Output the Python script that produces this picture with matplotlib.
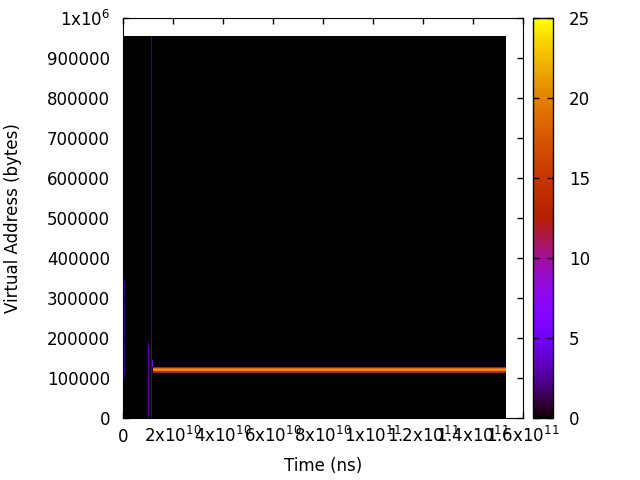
import numpy as np
import matplotlib
matplotlib.use("Agg")
import matplotlib.pyplot as plt

# histogram grid (time x address)
t_bin = 4e8          # ns per column
a_bin = 2500         # bytes per row
n_time_bins = 383
n_addr_bins = 382

# vertical streaks: time (ns), address from, address to, count
streak_t = [6e8, 1.02e10, 1.12e10, 1.16e10]
streak_lo = [95000, 0, 0, 127500]
streak_hi = [345000, 187500, 955000, 145000]
streak_c = [2, 2.8, 1.8, 6]

# the long horizontal band (stack usage), starting at band_start
band_start = 1.16e10
band_addr = [125000, 122500, 120000, 117500, 115000, 112500]
band_count = [7, 19, 21, 20, 14, 11]

xticks = [0, 2e10, 4e10, 6e10, 8e10, 1e11, 1.2e11, 1.4e11, 1.6e11]
xlabels = ["0", "2x10$^{10}$", "4x10$^{10}$", "6x10$^{10}$", "8x10$^{10}$",
           "1x10$^{11}$", "1.2x10$^{11}$", "1.4x10$^{11}$", "1.6x10$^{11}$"]
yticks = [0, 100000, 200000, 300000, 400000, 500000, 600000, 700000, 800000, 900000, 1000000]
ylabels = ["0", "100000", "200000", "300000", "400000", "500000", "600000",
           "700000", "800000", "900000", "1x10$^{6}$"]
cticks = [0, 5, 10, 15, 20, 25]

grid = np.zeros((n_addr_bins, n_time_bins))
for t, lo, hi, c in zip(streak_t, streak_lo, streak_hi, streak_c):
    grid[int(lo // a_bin):int(hi // a_bin), int(t // t_bin)] = c
for a, c in zip(band_addr, band_count):
    grid[int(a // a_bin), int(band_start // t_bin) + 1:] = c

plt.rcParams["font.family"] = "DejaVu Sans"
plt.rcParams["font.size"] = 12

fig = plt.figure(figsize=(6.4, 4.8), dpi=100)
ax = fig.add_axes([123 / 640, 62 / 480, 400 / 640, 400 / 480])
im = ax.imshow(grid, origin="lower", aspect="auto", cmap="gnuplot",
               vmin=0, vmax=25, interpolation="nearest",
               extent=[0, n_time_bins * t_bin, 0, n_addr_bins * a_bin])
ax.set_xlim(0, 1.6e11)
ax.set_ylim(0, 1e6)

ax.set_xticks(xticks)
ax.set_xticklabels(xlabels)
ax.set_yticks(yticks)
ax.set_yticklabels(ylabels)
ax.tick_params(direction="in", top=True, right=True, length=4.5, width=1)
ax.tick_params(axis="x", pad=17.3)
ax.tick_params(axis="y", pad=9.4)
for lab in ax.get_xticklabels():
    lab.set_va("baseline")
for lab in ax.get_yticklabels():
    lab.set_va("center_baseline")

ax.set_xlabel("Time (ns)")
ax.set_ylabel("Virtual Address (bytes)")
ax.xaxis.set_label_coords(0.5, -0.0975)
ax.yaxis.set_label_coords(-0.2525, 0.5)

cax = fig.add_axes([533 / 640, 62 / 480, 20 / 640, 400 / 480])
cb = fig.colorbar(im, cax=cax, ticks=cticks)
cax.tick_params(direction="in", left=True, right=True, length=4.5, width=1, pad=11.5)
cb.outline.set_linewidth(1)

fig.savefig("out.png", dpi=100)
